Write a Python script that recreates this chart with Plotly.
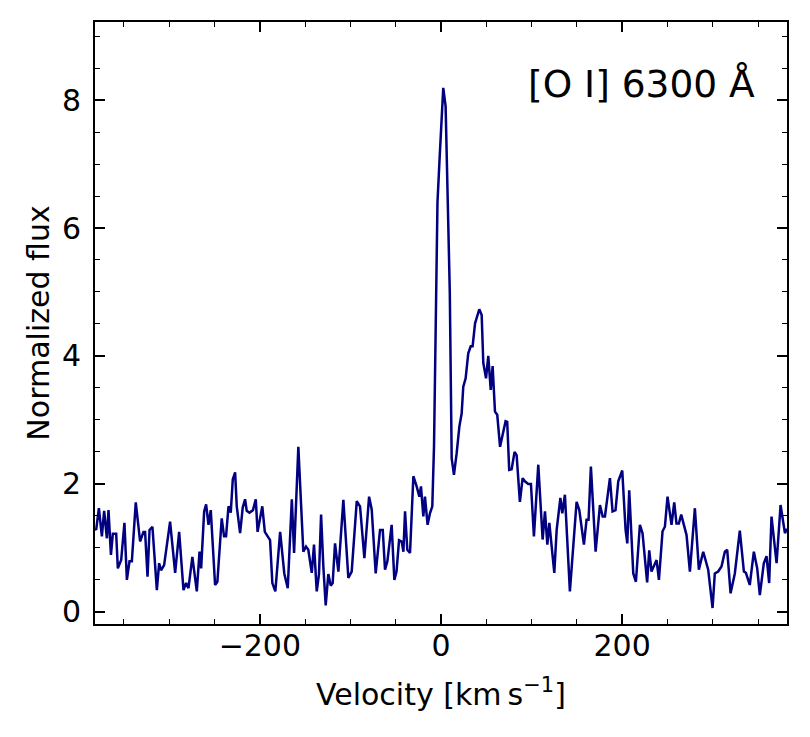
import plotly.graph_objects as go

# [O I] 6300 line profile
velocity = [
    -382.0, -380.7, -377.7, -374.4, -371.9, -368.9, -367.1, -364.4, -362.3, -358.6,
    -356.8, -353.1, -349.5, -346.8, -343.9, -341.3, -337.0, -332.2, -328.5, -326.7,
    -324.0, -321.8, -318.6, -313.7, -311.2, -309.1, -305.7, -299.1, -293.5, -289.1,
    -284.3, -281.4, -278.8, -274.5, -269.6, -266.6, -264.8, -261.5, -259.3, -256.7,
    -254.2, -249.4, -246.9, -242.1, -239.5, -237.3, -234.6, -232.1, -229.9, -227.3,
    -225.5, -221.8, -218.9, -216.3, -214.5, -211.5, -207.6, -204.5, -202.5, -197.3,
    -194.5, -188.7, -186.2, -182.9, -177.6, -173.0, -169.2, -164.7, -162.2, -157.5,
    -152.0, -149.0, -146.5, -142.7, -140.2, -137.2, -134.7, -132.4, -129.9, -127.3,
    -124.4, -121.8, -119.6, -117.0, -113.3, -107.8, -102.3, -98.6, -93.0, -89.4,
    -84.6, -79.4, -76.5, -72.1, -67.3, -64.3, -61.8, -59.2, -54.5, -51.5,
    -49.1, -46.3, -43.4, -41.5, -39.7, -37.2, -34.2, -30.5, -26.9, -23.9,
    -22.1, -19.5, -17.7, -14.8, -12.2, -9.6, -7.7, -5.6, -3.9, -1.5,
    1.0, 2.5, 5.1, 7.6, 9.7, 11.8, 14.3, 17.3, 20.3, 22.8,
    24.6, 27.2, 30.1, 32.8, 34.9, 37.6, 40.1, 42.3, 44.9, 46.7,
    49.7, 52.2, 54.9, 57.0, 59.6, 62.1, 65.2, 68.1, 71.3, 73.1,
    75.3, 78.0, 81.2, 83.5, 87.1, 90.1, 92.6, 96.3, 99.3, 102.6,
    107.4, 112.2, 114.8, 117.4, 119.6, 125.1, 127.7, 131.8, 133.9, 136.8,
    142.3, 149.7, 152.7, 157.8, 160.7, 162.9, 165.5, 170.7, 175.5, 178.5,
    181.0, 186.5, 189.4, 192.7, 195.7, 200.1, 203.8, 205.7, 207.8, 212.3,
    215.2, 219.6, 222.5, 227.6, 229.9, 232.4, 238.0, 240.6, 244.6, 247.2,
    250.1, 254.5, 257.5, 260.0, 262.6, 265.2, 271.1, 274.8, 280.3, 284.7,
    289.5, 295.0, 299.8, 302.3, 306.0, 309.7, 313.4, 316.0, 319.7, 324.4,
    329.9, 334.4, 336.6, 340.9, 345.4, 349.1, 352.0, 356.4, 359.4, 362.3,
    364.9, 370.5, 374.9, 379.7, 382.0,
]
flux = [
    1.30, 1.28, 1.62, 1.18, 1.58, 1.15, 1.59, 0.89, 1.22, 1.22,
    0.68, 0.81, 1.39, 0.50, 0.79, 0.79, 1.71, 1.10, 1.25, 1.25,
    0.55, 1.28, 1.33, 0.34, 0.76, 0.65, 0.73, 1.41, 0.61, 1.25,
    0.34, 0.45, 0.37, 0.86, 0.32, 0.94, 0.68, 1.57, 1.68, 1.36,
    1.59, 0.42, 0.47, 1.46, 1.18, 1.18, 1.65, 1.55, 2.07, 2.18,
    1.65, 1.23, 1.63, 1.76, 1.58, 1.55, 1.59, 1.76, 1.25, 1.65,
    1.25, 1.12, 0.45, 0.32, 1.25, 0.60, 0.37, 1.76, 0.92, 2.58,
    0.94, 1.02, 0.97, 0.61, 1.05, 0.32, 0.59, 1.52, 0.71, 0.10,
    0.59, 0.41, 0.45, 1.07, 0.63, 1.75, 0.53, 0.63, 1.73, 1.65,
    0.84, 1.80, 1.60, 0.60, 1.28, 1.28, 0.66, 0.79, 1.36, 0.50,
    0.63, 1.12, 1.10, 0.94, 1.57, 0.97, 0.92, 2.12, 1.96, 1.80,
    1.96, 1.49, 1.80, 1.36, 1.54, 1.65, 2.60, 4.50, 6.40, 7.10,
    7.90, 8.19, 7.90, 6.50, 5.00, 2.40, 2.14, 2.48, 2.90, 3.10,
    3.52, 3.65, 4.04, 4.15, 4.15, 4.51, 4.61, 4.73, 4.64, 3.89,
    3.65, 4.00, 3.47, 3.84, 3.13, 3.08, 2.58, 2.80, 2.98, 2.97,
    2.22, 2.23, 2.50, 2.45, 1.72, 2.09, 2.04, 2.00, 2.00, 1.18,
    2.30, 1.13, 1.57, 1.05, 1.39, 0.61, 1.28, 1.78, 1.54, 1.83,
    0.32, 1.72, 1.59, 1.05, 1.44, 1.44, 2.27, 0.94, 1.67, 1.49,
    1.49, 2.09, 1.57, 1.59, 2.04, 2.21, 1.28, 1.07, 1.90, 0.60,
    0.47, 1.36, 1.23, 0.46, 0.96, 0.63, 0.81, 0.50, 1.26, 1.33,
    1.80, 1.36, 1.71, 1.38, 1.38, 1.52, 1.20, 0.63, 1.62, 0.66,
    0.94, 0.66, 0.06, 0.60, 0.63, 0.71, 0.94, 0.97, 0.29, 0.60,
    1.27, 0.63, 0.61, 0.42, 0.94, 0.68, 0.26, 0.76, 0.87, 0.45,
    1.49, 0.76, 1.67, 1.23, 1.30,
]
x_ticks = [-200, 0, 200]
x_tick_labels = ["\u2212200", "0", "200"]
y_ticks = [0, 2, 4, 6, 8]
line_label = "[O I] 6300 Å"
x_title = "Velocity [km\u2009s<sup>\u22121</sup>]"
y_title = "Normalized flux"

font = "DejaVu Sans"

fig = go.Figure()

fig.add_trace(go.Scatter(
    x=velocity,
    y=flux,
    mode="lines",
    line=dict(color="#000080", width=2.5),
    showlegend=False
))

axis_common = dict(
    ticks="inside",
    ticklen=10,
    tickwidth=1.6,
    tickcolor="black",
    showline=True,
    linecolor="black",
    linewidth=2,
    mirror="allticks",
    showgrid=False,
    zeroline=False,
    automargin=False,
    tickfont=dict(family=font, size=30, color="black"),
)

fig.update_layout(
    width=810,
    height=737,
    margin=dict(l=95, r=23, t=22, b=113),
    plot_bgcolor="white",
    paper_bgcolor="white",
    font=dict(family=font, color="black"),
    xaxis=dict(
        axis_common,
        range=[-382, 382],
        tickvals=x_ticks,
        ticktext=x_tick_labels,
        ticklabelstandoff=-6,
        minor=dict(ticks="inside", dtick=50, ticklen=5, tickwidth=1.4, tickcolor="black"),
    ),
    yaxis=dict(
        axis_common,
        range=[-0.19, 9.22],
        tickvals=y_ticks,
        ticklabelstandoff=6,
        minor=dict(ticks="inside", dtick=0.5, ticklen=5, tickwidth=1.4, tickcolor="black"),
        title=dict(text=y_title,
                   font=dict(family=font, size=30, color="black"), standoff=3),
    ),
)

# x axis title as an annotation, so it sits a little lower than plotly puts it
fig.add_annotation(
    x=0.5, y=-0.113,
    xref="paper", yref="paper",
    text=x_title,
    showarrow=False,
    xanchor="center", yanchor="middle",
    font=dict(family=font, size=30, color="black")
)

fig.add_annotation(
    x=0.957, y=0.897,
    xref="paper", yref="paper",
    text=line_label,
    showarrow=False,
    xanchor="right", yanchor="middle",
    font=dict(family=font, size=37.5, color="black")
)

# page body has a default margin; drop it so the figure sits at the window's corner
fig.write_html("out.html", config={"displayModeBar": False},
               post_script="document.body.style.margin='0px';")
